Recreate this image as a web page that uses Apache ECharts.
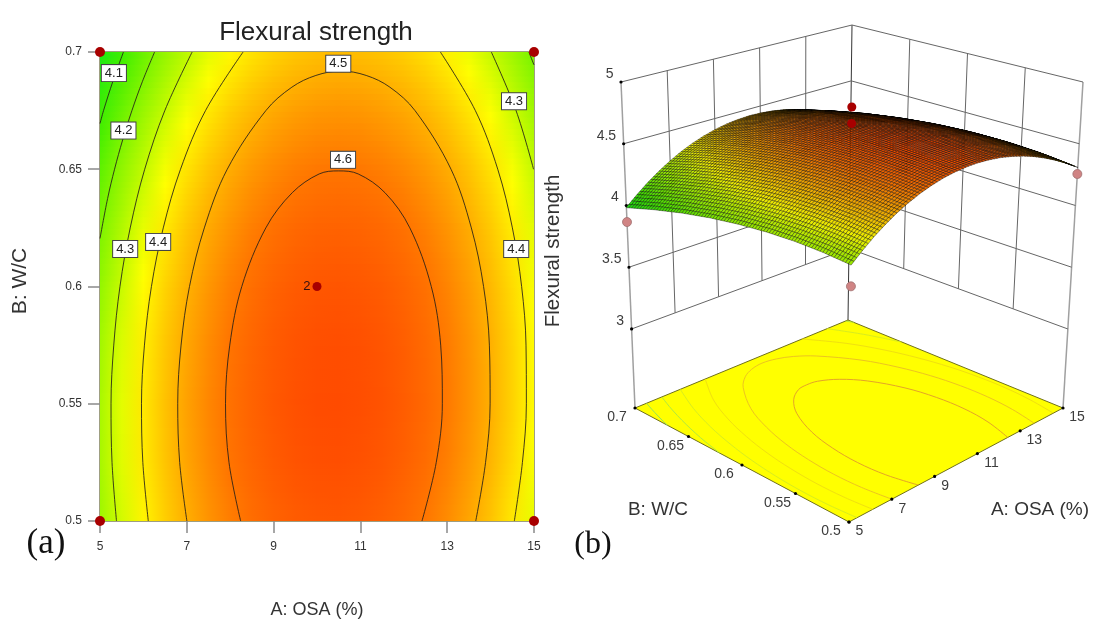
<!DOCTYPE html>
<html><head><meta charset="utf-8">
<style>html,body{margin:0;padding:0;background:#fff}#c{width:1098px;height:621px}</style>
<script src="https://cdn.jsdelivr.net/npm/echarts@6/dist/echarts.min.js"></script>
</head><body><div id="c"></div>
<script>
const osaTicks=[5,7,9,11,13,15];
const wcTicks=[0.5,0.55,0.6,0.65,0.7];
const strengthTicks=[3,3.5,4,4.5,5];
const osaGrid=[5,5.5,6,6.5,7,7.5,8,8.5,9,9.5,10,10.5,11,11.5,12,12.5,13,13.5,14,14.5,15];
const wcGrid=[0.5,0.525,0.55,0.575,0.6,0.625,0.65,0.675,0.7];
const row050=[4.242,4.317,4.386,4.446,4.500,4.546,4.584,4.615,4.639,4.655,4.663,4.665,4.658,4.645,4.623,4.595,4.559,4.515,4.464,4.406,4.340];
const row0525=[4.257,4.333,4.402,4.463,4.517,4.563,4.602,4.633,4.657,4.674,4.683,4.685,4.679,4.666,4.645,4.617,4.581,4.538,4.488,4.430,4.364];
const row055=[4.260,4.337,4.406,4.468,4.522,4.569,4.608,4.640,4.664,4.681,4.691,4.693,4.687,4.675,4.654,4.627,4.592,4.549,4.499,4.441,4.376];
const row0575=[4.250,4.327,4.397,4.459,4.514,4.561,4.601,4.633,4.658,4.675,4.685,4.688,4.683,4.671,4.651,4.623,4.589,4.547,4.497,4.440,4.375];
const row060=[4.228,4.306,4.376,4.439,4.494,4.541,4.582,4.614,4.640,4.658,4.668,4.671,4.666,4.655,4.635,4.608,4.574,4.532,4.483,4.427,4.363];
const row0625=[4.194,4.271,4.342,4.405,4.461,4.509,4.549,4.583,4.608,4.627,4.638,4.641,4.637,4.626,4.607,4.580,4.546,4.505,4.456,4.400,4.337];
const row065=[4.147,4.225,4.296,4.359,4.415,4.464,4.505,4.539,4.565,4.584,4.595,4.599,4.595,4.584,4.566,4.540,4.507,4.466,4.418,4.362,4.299];
const row0675=[4.087,4.166,4.237,4.301,4.357,4.406,4.448,4.482,4.509,4.528,4.540,4.544,4.541,4.530,4.512,4.487,4.454,4.413,4.366,4.310,4.248];
const row070=[4.015,4.094,4.166,4.230,4.287,4.337,4.379,4.413,4.440,4.460,4.472,4.477,4.474,4.464,4.447,4.422,4.389,4.349,4.302,4.247,4.185];
const strengthRows=[row050,row0525,row055,row0575,row060,row0625,row065,row0675,row070];

const contour46=[[8.241,.5],[7.972,.525],[7.892,.55],[7.99,.575],[8.267,.6],[8.821,.625],[9.43,.64],[10.05,.648],[10.5,.6493],[10.95,.648],[11.566,.64],[12.139,.625],[12.633,.6],[12.85,.575],[12.888,.55],[12.748,.525],[12.419,.5]];
const contour45=[[7.002,.5],[6.836,.525],[6.791,.55],[6.868,.575],[7.062,.6],[7.404,.625],[7.932,.65],[8.821,.675],[9.421,.685],[9.974,.69],[10.55,.6919],[11.134,.69],[11.679,.685],[12.259,.675],[13.088,.65],[13.556,.625],[13.838,.6],[13.972,.575],[13.989,.55],[13.884,.525],[13.658,.5]];
const contour44L=[[6.113,.5],[5.987,.525],[5.956,.55],[6.024,.575],[6.185,.6],[6.458,.625],[6.855,.65],[7.431,.675],[8.297,.7]];
const contour44R=[[12.843,.7],[13.649,.675],[14.165,.65],[14.502,.625],[14.715,.6],[14.816,.575],[14.824,.55],[14.733,.525],[14.547,.5]];
const contour43L=[[5.38,.5],[5.277,.525],[5.254,.55],[5.317,.575],[5.46,.6],[5.696,.625],[6.03,.65],[6.493,.675],[7.123,.7]];
const contour43R=[[14.017,.7],[14.587,.675],[14.99,.65]];
const contour42L=[[5,.6205],[5.175,.6375],[5.335,.65],[5.522,.6625],[5.735,.675],[5.979,.6875],[6.258,.7]];
const contour42R=[[14.882,.7],[15,.6945]];
const contour41L=[[5,.6695],[5.081,.675],[5.297,.6875],[5.54,.7]];
const contours=[contour46,contour45,contour44L,contour44R,contour43L,contour43R,contour42L,contour42R,contour41L];
const contourLevels=[4.6,4.5,4.4,4.4,4.3,4.3,4.2,4.2,4.1];
const contourLabels=[[5.32,.691,'4.1'],[5.54,.6665,'4.2'],[5.58,.616,'4.3'],[6.34,.619,'4.4'],[10.49,.695,'4.5'],[10.6,.654,'4.6'],[14.54,.679,'4.3'],[14.59,.616,'4.4']];
const designCorners=[[5,.5],[15,.5],[5,.7],[15,.7]];
const designCentre=[[10,.6]];
const designLow3d=[[5,.5,4.06],[5,.7,3.866],[15,.5,4.255]];
const designHigh3d=[[10,.6,4.833],[10,.6,4.70]];

const FONT='"Liberation Sans",Arial,sans-serif';
const colorStops=[[4.0,[24,232,24]],[4.1,[64,238,0]],[4.2,[128,244,0]],[4.3,[196,250,0]],[4.37,[255,255,0]],[4.45,[255,204,0]],[4.5,[255,174,0]],[4.6,[255,116,0]],[4.7,[255,72,0]]];
function zColor(z,k){
  const s=colorStops;k=k||1;
  let c=s[s.length-1][1];
  if(z<=s[0][0])c=s[0][1];
  else for(let i=1;i<s.length;i++){
    if(z<=s[i][0]){
      const t=(z-s[i-1][0])/(s[i][0]-s[i-1][0]);
      c=s[i-1][1].map((v,m)=>v+(s[i][1][m]-v)*t);
      break;
    }
  }
  return 'rgb('+c.map(v=>Math.round(v*k)).join(',')+')';
}
function zAt(iF,jF){
  const i=Math.min(Math.floor(iF),osaGrid.length-2),j=Math.min(Math.floor(jF),wcGrid.length-2);
  const a=iF-i,b=jF-j,r=strengthRows;
  return (r[j][i]*(1-a)+r[j][i+1]*a)*(1-b)+(r[j+1][i]*(1-a)+r[j+1][i+1]*a)*b;
}
// view box of panel (b)
const Z_FLOOR=2.36,Z_TOP=5,SURFACE_DROP=4;
const FLOOR={f:[849,522],r:[1063,408],l:[635,408],b:[848,320]};
const TOP={f:[852,156],r:[1083,82],l:[621,82],b:[852,25]};
function bil(q,u,v,k){return q.f[k]*(1-u)*(1-v)+q.r[k]*u*(1-v)+q.l[k]*(1-u)*v+q.b[k]*u*v;}
function project(A,B,z){
  const u=(A-5)/10,v=(B-.5)/.2,t=(z-Z_FLOOR)/(Z_TOP-Z_FLOOR);
  return [0,1].map(k=>bil(FLOOR,u,v,k)*(1-t)+bil(TOP,u,v,k)*t);
}
function renderHeat(params,api){
  const j=params.dataIndex,n=10,kids=[];
  const x0=api.coord([5,.5])[0],x1=api.coord([15,.5])[0];
  for(let s=0;s<n;s++){
    const jF=j+s/n,b0=wcGrid[j]+(wcGrid[j+1]-wcGrid[j])*s/n,b1=wcGrid[j]+(wcGrid[j+1]-wcGrid[j])*(s+1)/n;
    const yBottom=api.coord([5,b0])[1],yTop=api.coord([5,b1])[1];
    const stops=osaGrid.map((a,i)=>({offset:i/(osaGrid.length-1),color:zColor(zAt(i,jF+.5/n))}));
    kids.push({type:'rect',shape:{x:x0,y:yTop,width:x1-x0,height:yBottom-yTop+(j===0&&s===0?0:1)},
      style:{fill:new echarts.graphic.LinearGradient(0,0,1,0,stops)},silent:true});
  }
  return {type:'group',children:kids};
}
function renderWalls(){
  const kids=[];
  const line=(a,b,color,w)=>kids.push({type:'line',shape:{x1:a[0],y1:a[1],x2:b[0],y2:b[1]},style:{stroke:color,lineWidth:w},silent:true});
  const zMin=strengthTicks[0],zMax=strengthTicks[strengthTicks.length-1];
  osaTicks.forEach(a=>{
    const outer=a===5;
    line(project(a,.7,zMax),project(a,.7,(a===5||a===15)?Z_FLOOR:zMin),outer?'#a0a0a0':(a===15?'#333':'#666'),outer?1.5:1);
  });
  wcTicks.forEach(b=>{
    if(b===.7)return;
    const outer=b===.5;
    line(project(15,b,zMax),project(15,b,outer?Z_FLOOR:zMin),outer?'#a0a0a0':'#666',outer?1.5:1);
  });
  strengthTicks.forEach(z=>{
    line(project(5,.7,z),project(15,.7,z),'#666',1);
    line(project(15,.7,z),project(15,.5,z),'#666',1);
  });
  return {type:'group',children:kids};
}
function renderFloor(){
  const poly=[project(5,.5,Z_FLOOR),project(15,.5,Z_FLOOR),project(15,.7,Z_FLOOR),project(5,.7,Z_FLOOR)];
  const kids=[{type:'polygon',shape:{points:poly},style:{fill:'#ffff00',stroke:'#70701a',lineWidth:1},silent:true}];
  const col={4.6:'#e4a428',4.5:'#ecc420',4.4:'#f0e010',4.3:'#d8ec20',4.2:'#b0e840',4.1:'#90e060'};
  contours.forEach((c,i)=>kids.push({type:'polyline',shape:{points:c.map(p=>project(p[0],p[1],Z_FLOOR)),smooth:.35},
    style:{stroke:col[contourLevels[i]],lineWidth:1,fill:'none'},silent:true}));
  return {type:'group',children:kids};
}
function renderSurface(){
  const subI=4,subJ=10,nI=(osaGrid.length-1)*subI,nJ=(wcGrid.length-1)*subJ,kids=[];
  const pt=(i,j)=>{
    const iF=i/subI,jF=j/subJ,z=zAt(iF,jF),p=project(5+10*i/nI,.5+.2*j/nJ,z);
    return [p[0],p[1]+SURFACE_DROP];
  };
  for(let i=nI-1;i>=0;i--)for(let j=nJ-1;j>=0;j--){
    const z=zAt((i+.5)/subI,(j+.5)/subJ);
    kids.push({type:'polygon',shape:{points:[pt(i,j),pt(i+1,j),pt(i+1,j+1),pt(i,j+1)]},
      style:{fill:zColor(z,.93),stroke:'rgba(0,0,0,0.62)',lineWidth:.6},silent:true});
  }
  return {type:'group',children:kids};
}
function renderAxes3d(){
  const kids=[];
  const dot=p=>kids.push({type:'circle',shape:{cx:p[0],cy:p[1],r:1.6},style:{fill:'#000'},silent:true});
  const txt=(x,y,s,align)=>kids.push({type:'text',x:x,y:y,style:{text:s,fill:'#3c3c3c',fontSize:14,fontFamily:FONT,align:align||'center',verticalAlign:'middle'},silent:true});
  strengthTicks.forEach(z=>{const p=project(5,.7,z);dot(p);txt(p[0]-7.5,p[1]-8,String(z),'right');});
  osaTicks.forEach(a=>{const p=project(a,.5,Z_FLOOR);dot(p);txt(p[0]+(a<10?10.5:14),p[1]+9.5,String(a));});
  wcTicks.forEach(b=>{const p=project(5,b,Z_FLOOR);dot(p);txt(p[0]-18,p[1]+9.5,String(b));});
  return {type:'group',children:kids};
}
function renderDotsBelow(){
  const kids=[];
  designLow3d.forEach(d=>{const p=project(d[0],d[1],d[2]);
    kids.push({type:'circle',shape:{cx:p[0],cy:p[1],r:4.5},style:{fill:'#d08484',stroke:'#a07070',lineWidth:.8},silent:true});});
  return {type:'group',children:kids};
}
function renderDotsAbove(){
  const kids=[];
  designHigh3d.forEach(d=>{const p=project(d[0],d[1],d[2]);
    kids.push({type:'circle',shape:{cx:p[0],cy:p[1],r:4.5},style:{fill:'#a80000'},silent:true});});
  return {type:'group',children:kids};
}
const noTick={show:false};
const gridLine={lineStyle:{color:'#7f7f58',width:1.5}};
const option={
  animation:false,
  backgroundColor:'#fff',
  grid:{left:100,top:52,width:434,height:469,containLabel:false,outerBoundsMode:'none'},
  xAxis:[
    {type:'value',min:5,max:15,interval:2,position:'bottom',splitLine:{show:false},axisLine:gridLine,
     axisTick:{length:12,lineStyle:{color:'#8a8a8a',width:1.5}},
     axisLabel:{margin:20,fontSize:12,color:'#333',fontFamily:FONT,showMinLabel:true,showMaxLabel:true},
     name:'A: OSA (%)',nameLocation:'middle',nameGap:80,nameTextStyle:{fontSize:18,color:'#333',fontFamily:FONT}},
    {type:'value',min:5,max:15,position:'top',splitLine:{show:false},axisLine:gridLine,axisTick:noTick,axisLabel:noTick}
  ],
  yAxis:[
    {type:'value',min:.5,max:.7,interval:.05,position:'left',splitLine:{show:false},axisLine:gridLine,
     axisTick:{length:12,lineStyle:{color:'#8a8a8a',width:1.5}},
     axisLabel:{margin:18,fontSize:12,color:'#333',fontFamily:FONT,formatter:v=>String(+v.toFixed(2))}},
    {type:'value',min:.5,max:.7,position:'right',splitLine:{show:false},axisLine:gridLine,axisTick:noTick,axisLabel:noTick}
  ],
  title:{text:'Flexural strength',left:311,top:15,textAlign:'center',textStyle:{fontSize:26,fontWeight:'normal',color:'#222',fontFamily:FONT}},
  graphic:[
    {type:'text',x:20,y:281,rotation:Math.PI/2,style:{text:'B: W/C',fontSize:21,fontFamily:FONT,fill:'#333',align:'center',verticalAlign:'middle'}},
    {type:'text',x:553,y:251,rotation:Math.PI/2,style:{text:'Flexural strength',fontSize:20.5,fontFamily:FONT,fill:'#333',align:'center',verticalAlign:'middle'}},
    {type:'text',x:658,y:510,style:{text:'B: W/C',fontSize:19,fontFamily:FONT,fill:'#333',align:'center',verticalAlign:'middle'}},
    {type:'text',x:1040,y:510,style:{text:'A: OSA (%)',fontSize:19,fontFamily:FONT,fill:'#333',align:'center',verticalAlign:'middle'}},
    {type:'text',x:46,y:544,style:{text:'(a)',fontSize:35,fontFamily:'"Liberation Serif",serif',fill:'#111',align:'center',verticalAlign:'middle'}},
    {type:'text',x:593,y:545,style:{text:'(b)',fontSize:32,fontFamily:'"Liberation Serif",serif',fill:'#111',align:'center',verticalAlign:'middle'}}
  ],
  series:[
    {type:'custom',renderItem:renderHeat,data:wcGrid.slice(0,-1).map(b=>[5,b]),encode:{x:0,y:1},clip:false,silent:true,z:1},
    ...contours.map(c=>({type:'line',data:c,smooth:.35,symbol:'none',lineStyle:{color:'rgba(35,30,25,.85)',width:1},silent:true,z:2})),
    {type:'scatter',data:designCorners,symbolSize:10,clip:false,itemStyle:{color:'#a80000',opacity:1},silent:true,z:5},
    {type:'scatter',data:designCentre,symbolSize:9,clip:false,itemStyle:{color:'#a80000',opacity:1},silent:true,z:5,
     label:{show:true,position:'left',distance:2,formatter:'2',fontSize:13,color:'#331111',fontFamily:FONT}},
    {type:'scatter',data:contourLabels,symbolSize:1,clip:false,itemStyle:{color:'rgba(0,0,0,0)',opacity:1},silent:true,z:4,
     label:{show:true,position:'inside',formatter:p=>p.data[2],fontSize:13,color:'#222',fontFamily:FONT,backgroundColor:'#fff',borderColor:'#444',borderWidth:1,padding:[2,3,1,3],opacity:1}},
    {type:'custom',coordinateSystem:'none',renderItem:renderWalls,data:[0],silent:true,z:1},
    {type:'custom',coordinateSystem:'none',renderItem:renderFloor,data:[0],silent:true,z:2},
    {type:'custom',coordinateSystem:'none',renderItem:renderAxes3d,data:[0],silent:true,z:3},
    {type:'custom',coordinateSystem:'none',renderItem:renderDotsBelow,data:[0],silent:true,z:3},
    {type:'custom',coordinateSystem:'none',renderItem:renderSurface,data:[0],silent:true,z:4},
    {type:'custom',coordinateSystem:'none',renderItem:renderDotsAbove,data:[0],silent:true,z:5},
  ]
};
const chart=echarts.init(document.getElementById('c'),null,{renderer:'canvas',width:1098,height:621});
chart.setOption(option);
</script></body></html>
